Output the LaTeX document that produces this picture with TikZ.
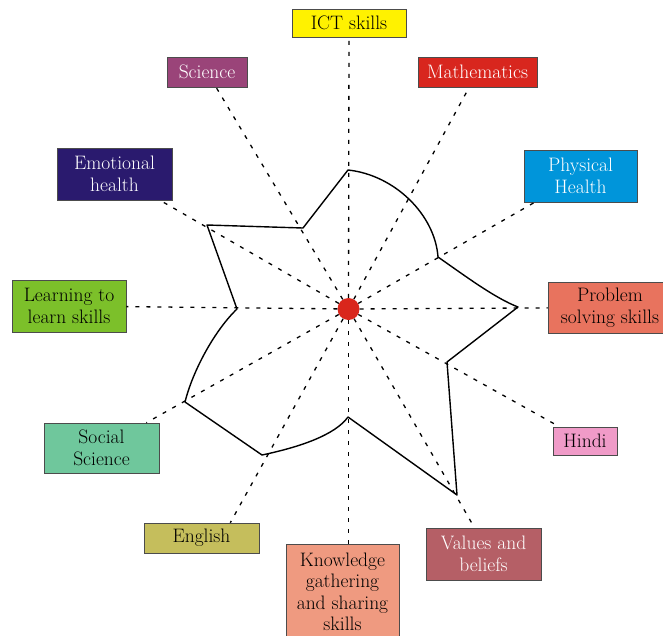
\documentclass[tikz,border=0pt]{standalone}
\usepackage{fontspec}
\usetikzlibrary{positioning}

\definecolor{ictyellow}{HTML}{FFF200}
\definecolor{scipurple}{HTML}{9A4479}
\definecolor{mathred}{HTML}{D8261E}
\definecolor{emonavy}{HTML}{2A1A6E}
\definecolor{physblue}{HTML}{0095DA}
\definecolor{learngreen}{HTML}{7CC02A}
\definecolor{probsalmon}{HTML}{E8735E}
\definecolor{socteal}{HTML}{6FC79C}
\definecolor{engolive}{HTML}{C5BE5C}
\definecolor{hindipink}{HTML}{F09BC8}
\definecolor{valrose}{HTML}{B55F66}
\definecolor{knowpeach}{HTML}{EF9A80}
\definecolor{dotred}{HTML}{D9261C}

\begin{document}
\begin{tikzpicture}
  [
  x=1pt, y=-1pt,
  font=\fontsize{19.5}{21.5}\selectfont,
  spoke/.style={line width=1.3pt, dash pattern=on 4pt off 7pt},
  star/.style={line width=1.4pt, line join=round},
  box/.style={rectangle, draw=black!70, line width=0.6pt, inner sep=0pt, align=center},
  ]
  \clip (0,0) rectangle (663,635);

  \node[circle, fill=dotred, inner sep=0pt, minimum size=22] (ctr) at (348.5,309) {};

  % subject boxes round the centre
  \node[box, fill=ictyellow, minimum width=114, minimum height=28] (ict) at (349,23) {ICT skills};
  \node[box, fill=scipurple, text=white, minimum width=80, minimum height=30] (sci) at (207,72) {Science};
  \node[box, fill=mathred, text=white, minimum width=119, minimum height=30] (math) at (477.5,72) {Mathematics};
  \node[box, fill=emonavy, text=white, minimum width=115, minimum height=52] (emo) at (114.5,174) {Emotional\\health};
  \node[box, fill=physblue, text=white, minimum width=113, minimum height=52] (phys) at (580.5,176) {Physical\\Health};
  \node[box, fill=learngreen, minimum width=114, minimum height=52] (learn) at (69,306) {Learning to\\learn skills};
  \node[box, fill=probsalmon, minimum width=124, minimum height=51] (prob) at (610,307.5) {Problem\\solving skills};
  \node[box, fill=socteal, minimum width=115, minimum height=50] (soc) at (101.5,448) {Social\\Science};
  \node[box, fill=hindipink, minimum width=64, minimum height=28] (hindi) at (585,441) {Hindi};
  \node[box, fill=engolive, minimum width=115, minimum height=30] (eng) at (201.5,538) {English};
  \node[box, fill=valrose, text=white, minimum width=115, minimum height=52] (val) at (483.5,554) {Values and\\beliefs};
  \node[box, fill=knowpeach, minimum width=113, minimum height=96] (know) at (342.5,592) {Knowledge\\gathering\\and sharing\\skills};

  \foreach \n in {ict,sci,math,emo,phys,learn,prob,soc,hindi} {
    \draw[spoke] (ctr) -- (\n);
  }
  \draw[spoke] (ctr) -- (eng.28);
  \draw[spoke] (ctr) -- (val.109);
  \draw[spoke] (ctr) -- (ctr |- know.north);

  % profile
  \draw[star] (348,170) .. controls (395,175) and (435,215) .. (438,257)
    .. controls (468,278) and (495,298) .. (518,307)
    -- (447,362) -- (457,495) -- (348,417)
    .. controls (335,435) and (300,447) .. (262,455)
    -- (185,402)
    .. controls (193,370) and (215,330) .. (237,309)
    -- (207,225) -- (303,228) -- cycle;

\end{tikzpicture}
\end{document}
